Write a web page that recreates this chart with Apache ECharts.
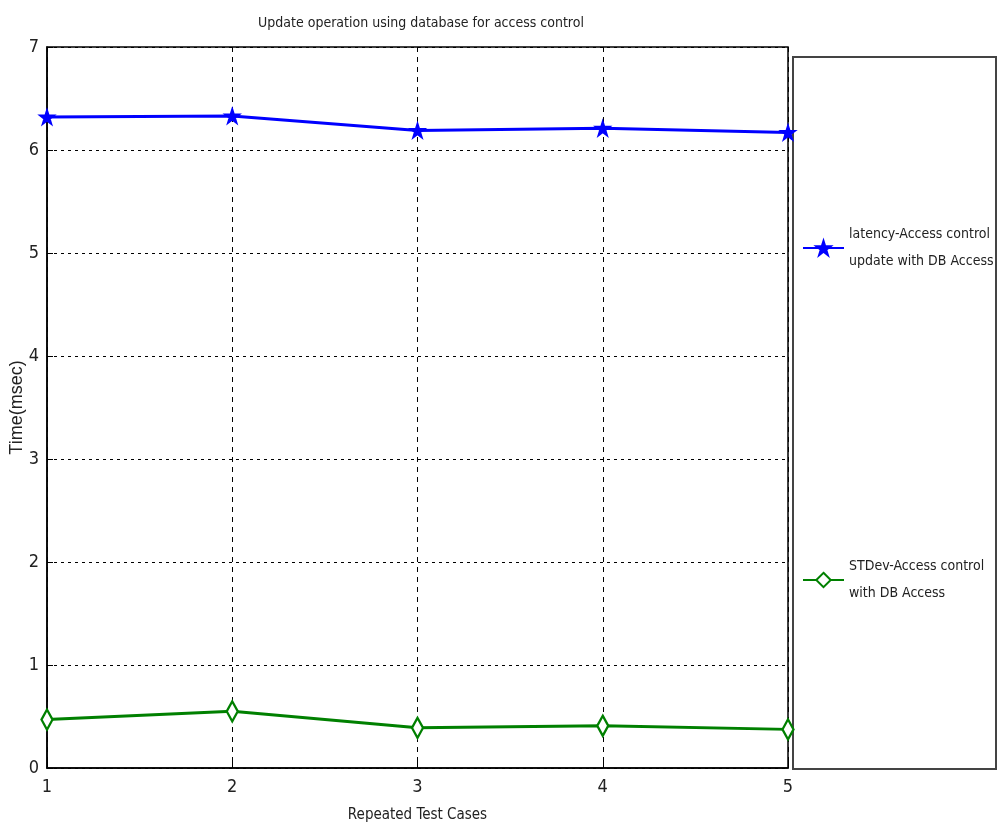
<!DOCTYPE html>
<html>
<head>
<meta charset="utf-8">
<script src="https://cdn.jsdelivr.net/npm/echarts@6/dist/echarts.min.js"></script>
<style>html,body{margin:0;padding:0;background:#fff;}#c{width:997px;height:829px;}</style>
</head>
<body>
<div id="c"></div>
<script>
const testCases = [1, 2, 3, 4, 5];
const latency = [6.32, 6.33, 6.19, 6.21, 6.17];
const stdev = [0.47, 0.55, 0.39, 0.41, 0.375];
const seriesNames = ['latency-Access control\nupdate with DB Access', 'STDev-Access control\nwith DB Access'];
const titleText = 'Update operation using database for access control';
const xTitle = 'Repeated Test Cases';
const yTitle = 'Time(msec)';

const narrow = '"Liberation Sans Narrow", "Arial Narrow", "DejaVu Sans Condensed", sans-serif';
const star = 'path://M50,2 L61.8,37.6 L99,37.6 L68.9,59.6 L80.4,95 L50,73 L19.6,95 L31.1,59.6 L1,37.6 L38.2,37.6 Z';

const chart = echarts.init(document.getElementById('c'));
chart.setOption({
  animation: false,
  backgroundColor: '#fff',
  title: {
    text: titleText, left: 416, top: 11, textAlign: 'center',
    textStyle: { fontFamily: narrow, fontSize: 14, fontWeight: 'normal', color: '#222' }
  },
  grid: { left: 47, top: 47, right: 209, bottom: 61, containLabel: false, outerBoundsMode: 'none',
    show: true, borderColor: '#000', borderWidth: 1.5, backgroundColor: '#fff' },
  xAxis: {
    type: 'value', min: 1, max: 5, interval: 1,
    name: xTitle, nameLocation: 'middle', nameGap: 40,
    nameTextStyle: { fontFamily: narrow, fontSize: 15, color: '#222' },
    axisLine: { show: true, onZero: false, lineStyle: { color: '#000', width: 1.5 } },
    axisTick: { show: true, inside: true, length: 6, lineStyle: { color: '#000' } },
    axisLabel: { fontFamily: narrow, fontSize: 18, color: '#222', margin: 10 },
    splitLine: { show: true, lineStyle: { type: [5, 5], color: '#000', width: 1 } }
  },
  yAxis: {
    type: 'value', min: 0, max: 7, interval: 1,
    name: yTitle, nameLocation: 'middle', nameGap: 21, nameRotate: 90, nameMoveOverlap: false,
    nameTextStyle: { fontFamily: '"Liberation Sans", Arial, sans-serif', fontSize: 18, color: '#222' },
    axisLine: { show: true, lineStyle: { color: '#000', width: 1.5 } },
    axisTick: { show: true, inside: true, length: 6, lineStyle: { color: '#000' } },
    axisLabel: { fontFamily: narrow, fontSize: 18, color: '#222', margin: 8 },
    splitLine: { show: true, lineStyle: { type: [3, 4], color: '#000', width: 1.2 } }
  },
  legend: [
    {
      data: [seriesNames[0]], left: 802, top: 221, orient: 'vertical', padding: 0,
      itemWidth: 41, itemHeight: 18,
      textStyle: { fontFamily: narrow, fontSize: 14, color: '#222', lineHeight: 27 }
    },
    {
      data: [seriesNames[1]], left: 802, top: 553, orient: 'vertical', padding: 0,
      itemWidth: 41, itemHeight: 18,
      textStyle: { fontFamily: narrow, fontSize: 14, color: '#222', lineHeight: 27 }
    }
  ],
  graphic: [
    { type: 'rect', z: -1, shape: { x: 793, y: 57, width: 203, height: 712 },
      style: { fill: '#fff', stroke: '#444', lineWidth: 2 } }
  ],
  series: [
    {
      name: seriesNames[0], type: 'line',
      data: testCases.map((x, i) => [x, latency[i]]),
      lineStyle: { color: '#0000ff', width: 3 },
      itemStyle: { color: '#0000ff', borderColor: '#0000ff', borderWidth: 1.5 },
      symbol: star, symbolSize: 15, showSymbol: true, clip: false
    },
    {
      name: seriesNames[1], type: 'line',
      data: testCases.map((x, i) => [x, stdev[i]]),
      lineStyle: { color: '#008000', width: 3 },
      itemStyle: { color: '#fff', borderColor: '#008000', borderWidth: 2.5 },
      symbol: 'diamond', symbolSize: [11, 20], showSymbol: true, clip: false
    }
  ]
});
</script>
</body>
</html>
